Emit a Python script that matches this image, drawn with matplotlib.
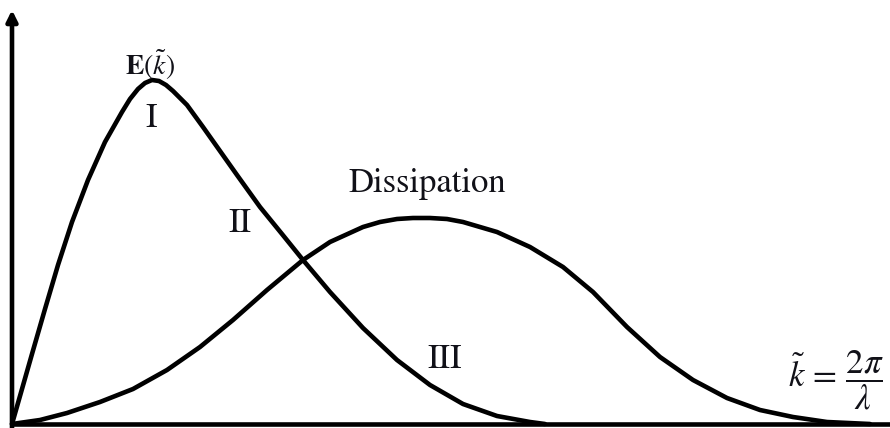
import matplotlib
matplotlib.use("Agg")
import matplotlib.pyplot as plt

plt.rcParams["mathtext.fontset"] = "stix"
plt.rcParams["font.family"] = ["STIXGeneral", "DejaVu Serif"]

# energy spectrum E(k)
k_energy = [0.00, 0.20, 0.33, 0.46, 0.60, 0.76, 0.93, 1.10, 1.18, 1.26,
            1.33, 1.40, 1.47, 1.54, 1.61, 1.75, 1.91, 2.08, 2.25, 2.48,
            2.70, 2.91, 3.18, 3.51, 3.85, 4.18, 4.51, 4.85, 5.18, 5.33]
energy = [0.00, 0.70, 1.15, 1.59, 2.02, 2.44, 2.82, 3.12, 3.25, 3.35,
          3.41, 3.44, 3.43, 3.39, 3.33, 3.19, 2.97, 2.73, 2.49, 2.17,
          1.90, 1.64, 1.32, 0.96, 0.64, 0.39, 0.20, 0.08, 0.02, 0.00]

# dissipation spectrum
k_diss = [0.00, 0.28, 0.55, 0.88, 1.21, 1.55, 1.88, 2.21, 2.55, 2.91,
          3.18, 3.51, 3.68, 3.85, 4.01, 4.18, 4.35, 4.51, 4.85, 5.18,
          5.51, 5.81, 6.15, 6.48, 6.81, 7.15, 7.48, 7.81, 8.15, 8.58]
dissipation = [0.00, 0.04, 0.11, 0.22, 0.35, 0.54, 0.77, 1.04, 1.34, 1.64,
               1.82, 1.97, 2.02, 2.05, 2.06, 2.06, 2.05, 2.02, 1.92, 1.77,
               1.57, 1.32, 0.97, 0.67, 0.44, 0.26, 0.14, 0.07, 0.02, 0.00]

LW = 3.3
INK = "#111118"

fig = plt.figure(figsize=(8.9, 4.28), dpi=100)
ax = fig.add_axes([0, 0, 1, 1])
ax.set_xlim(-0.12, 8.78)
ax.set_ylim(-0.04, 4.24)
ax.axis("off")

for k, v in [(k_energy, energy), (k_diss, dissipation)]:
    ax.plot(k, v, color="black", lw=LW,
            solid_capstyle="round", solid_joinstyle="round")

# axes: vertical arrow and horizontal baseline
ax.annotate(
    "",
    xy=(0, 4.14),
    xytext=(0, -0.04),
    arrowprops=dict(arrowstyle="-|>", lw=LW, color="black",
                    mutation_scale=16, shrinkA=0, shrinkB=0),
)
ax.plot([-0.02, 8.78], [0, 0], color="black", lw=LW, solid_capstyle="butt")

ax.text(1.38, 3.49, r"$\mathbf{E}(\tilde{k})$", fontsize=20,
        ha="center", va="baseline", color=INK)
ax.text(1.39, 2.97, "I", fontsize=25, ha="center", va="baseline", color=INK)
ax.text(2.28, 1.92, "II", fontsize=25, ha="center", va="baseline", color=INK)
ax.text(4.33, 0.56, "III", fontsize=25, ha="center", va="baseline", color=INK)
ax.text(4.15, 2.32, "Dissipation", fontsize=25, ha="center",
        va="baseline", color=INK)
ax.text(7.76, 0.44, r"$\tilde{k}\,=\,\dfrac{2\pi}{\lambda}$", fontsize=25,
        ha="left", va="center", color=INK)

fig.savefig("out.png", dpi=100)
